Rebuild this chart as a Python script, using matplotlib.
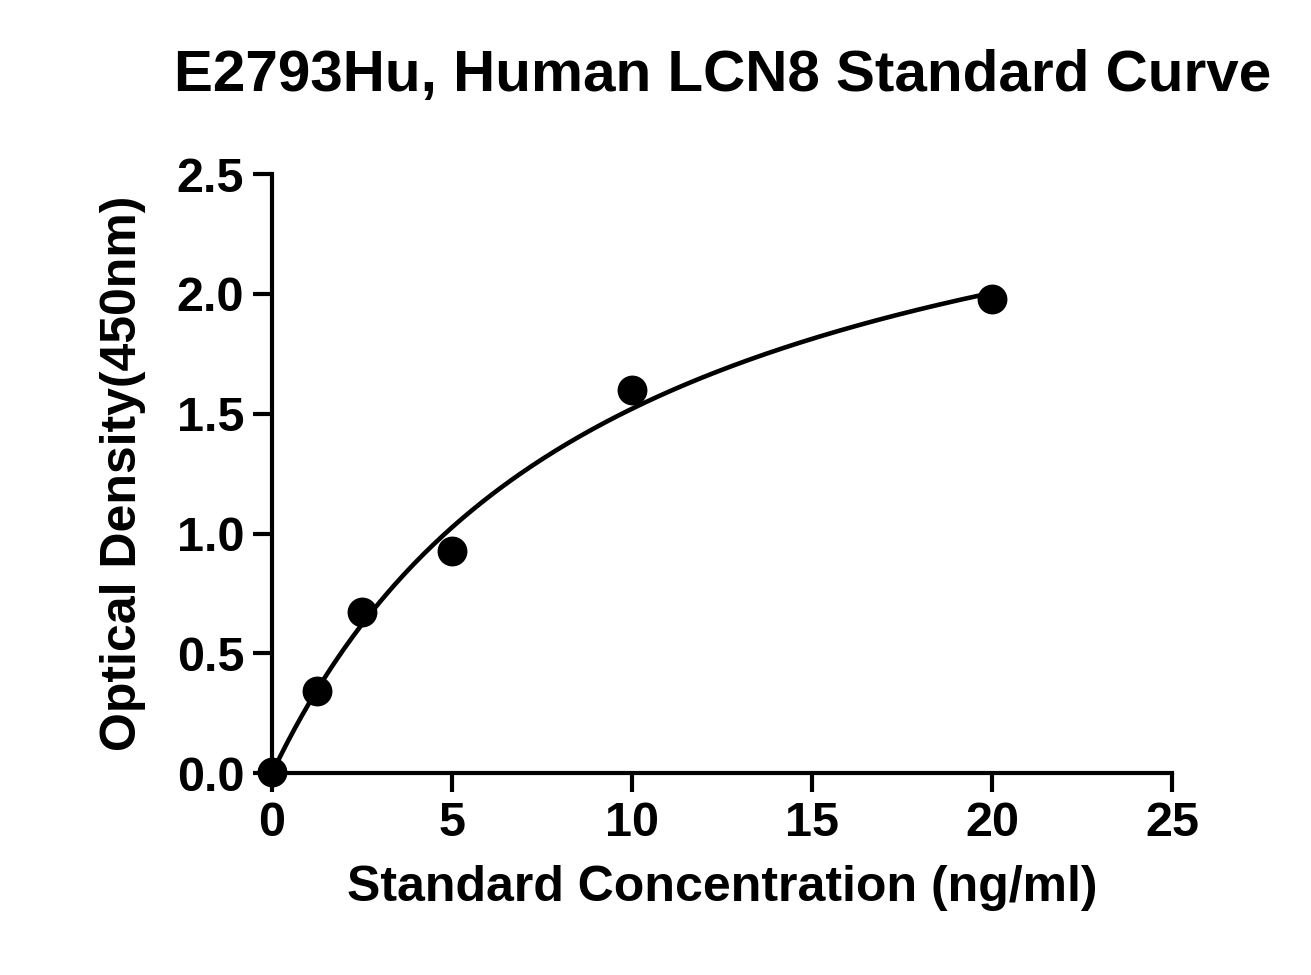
import numpy as np
import matplotlib
matplotlib.use("Agg")
import matplotlib.pyplot as plt

conc = [0, 1.25, 2.5, 5, 10, 20]
od = [0.005, 0.342, 0.672, 0.927, 1.60, 1.98]
xticks = [0, 5, 10, 15, 20, 25]
yticks = [0.0, 0.5, 1.0, 1.5, 2.0, 2.5]

plt.rcParams['font.family'] = ['Liberation Sans', 'DejaVu Sans']
plt.rcParams['font.weight'] = 'bold'

# hyperbolic fit y = a*x/(b+x)
x = np.array(conc); y = np.array(od)
best = None
for b in np.linspace(1, 40, 4000):
    f = x / (b + x)
    a = (f @ y) / (f @ f)
    err = ((a * f - y) ** 2).sum()
    if best is None or err < best[0]:
        best = (err, a, b)
_, a, b = best
xs = np.linspace(0, 20, 300)

fig = plt.figure(figsize=(13.11, 9.75), dpi=100)
ax = fig.add_axes([0.2075, 0.207, 0.6865, 0.6145])
ax.plot(xs, a * xs / (b + xs), color='black', lw=3.3)
ax.scatter(conc, od, s=420, color='black', zorder=3, clip_on=False)
ax.set_xlim(0, 25); ax.set_ylim(0, 2.5)
ax.set_xticks(xticks); ax.set_yticks(yticks)
ax.set_xticklabels([str(t) for t in xticks])
ax.set_yticklabels([f"{t:.1f}" for t in yticks])
for s in ['top', 'right']:
    ax.spines[s].set_visible(False)
for s in ['left', 'bottom']:
    ax.spines[s].set_linewidth(3)
ax.tick_params(width=3, length=14, labelsize=35, pad=6)
ax.set_xlabel("Standard Concentration (ng/ml)", fontsize=36, fontweight='bold', labelpad=14)
ax.set_ylabel("Optical Density(450nm)", fontsize=36, fontweight='bold', labelpad=22)
fig.text(0.551, 0.922, "E2793Hu, Human LCN8 Standard Curve", fontsize=42, fontweight='bold', ha='center', va='center')
fig.savefig("out.png", dpi=100)
